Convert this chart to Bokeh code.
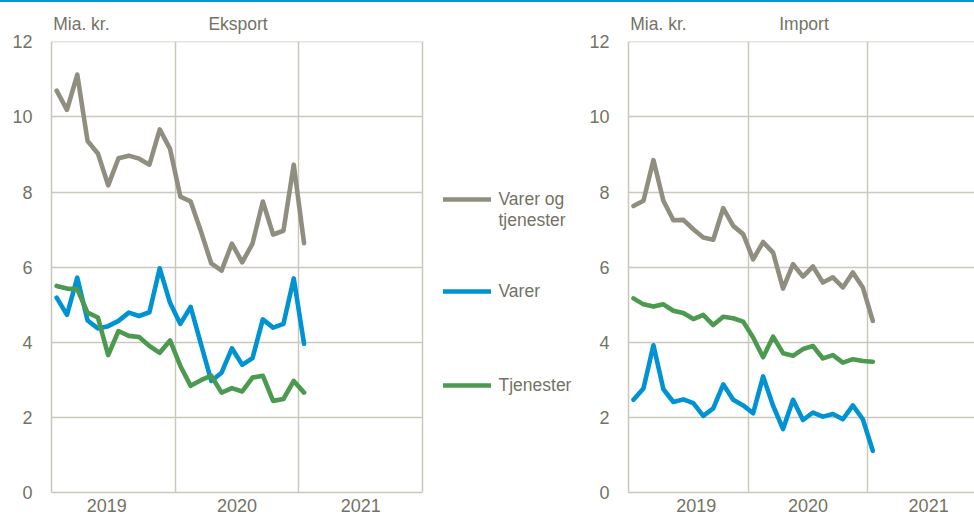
from bokeh.plotting import figure
from bokeh.models import (Range1d, FixedTicker, Legend, LegendItem, Div, ColumnDataSource,
                          LinearAxis)
from bokeh.layouts import row, column
from bokeh.embed import file_html
from bokeh.resources import INLINE

# ---------------- data ----------------
months = [f"{y}-{m:02d}" for y in (2019, 2020) for m in range(1, 13)] + ["2021-01"]
year_labels = ["2019", "2020", "2021"]

export_total = [10.70, 10.19, 11.13, 9.36, 9.03, 8.18, 8.90, 8.97, 8.89, 8.73, 9.67, 9.15,
                7.88, 7.75, 6.95, 6.10, 5.91, 6.63, 6.13, 6.63, 7.75, 6.87, 6.97, 8.73, 6.64]
export_goods = [5.19, 4.73, 5.72, 4.58, 4.37, 4.43, 4.57, 4.79, 4.70, 4.80, 5.97, 5.05,
                4.49, 4.94, 3.95, 2.97, 3.19, 3.84, 3.40, 3.58, 4.61, 4.39, 4.49, 5.70, 3.96]
export_services = [5.50, 5.43, 5.41, 4.79, 4.66, 3.66, 4.30, 4.17, 4.14, 3.90, 3.72, 4.05,
                   3.37, 2.84, 2.99, 3.11, 2.66, 2.78, 2.69, 3.06, 3.11, 2.44, 2.49, 2.97, 2.66]

import_total = [7.63, 7.77, 8.85, 7.77, 7.25, 7.26, 7.01, 6.79, 6.73, 7.57, 7.10, 6.88,
                6.21, 6.67, 6.39, 5.43, 6.08, 5.75, 6.02, 5.59, 5.73, 5.46, 5.86, 5.46, 4.57]
import_goods = [2.47, 2.77, 3.92, 2.75, 2.41, 2.48, 2.38, 2.04, 2.24, 2.88, 2.47, 2.32,
                2.11, 3.09, 2.31, 1.69, 2.47, 1.93, 2.13, 2.02, 2.09, 1.95, 2.32, 1.95, 1.11]
import_services = [5.17, 5.01, 4.95, 5.01, 4.84, 4.78, 4.62, 4.73, 4.46, 4.68, 4.64, 4.55,
                   4.13, 3.60, 4.15, 3.71, 3.64, 3.82, 3.90, 3.57, 3.66, 3.46, 3.55, 3.50, 3.48]

unit_label = "Mia. kr."
legend_lines = [["Varer og", "tjenester"], ["Varer"], ["Tjenester"]]

# ---------------- style ----------------
FONT = "Liberation Sans"
TXT = "#737365"
GRID = "#c9c8bd"
C_TOTAL = "#8f8e7f"
C_GOODS = "#0093d3"
C_SERV = "#4c9a50"
LW = 4.6
H = 517

x_pos = [i + 0.5 for i in range(len(months))]


def make_panel(width, border_left, border_right, border_top, border_bottom, x_end,
               year_ticks, title, head_ticks, data):
    p = figure(width=width, height=H, output_backend="svg", toolbar_location=None,
               title=None,
               x_range=Range1d(0, x_end), y_range=Range1d(0, 12.01),
               min_border_left=border_left, min_border_right=border_right,
               min_border_top=border_top, min_border_bottom=border_bottom)
    p.outline_line_color = None

    # y axis
    p.yaxis.ticker = FixedTicker(ticks=[0, 2, 4, 6, 8, 10, 12])
    p.yaxis.major_tick_out = 0
    p.yaxis.major_tick_in = 0
    p.yaxis.minor_tick_out = 0
    p.yaxis.minor_tick_in = 0
    p.yaxis.major_label_standoff = 19
    p.yaxis.axis_line_color = GRID
    p.yaxis.axis_line_width = 1.5
    p.yaxis.major_label_text_font = FONT
    p.yaxis.major_label_text_font_size = "18px"
    p.yaxis.major_label_text_color = TXT

    # x axis: year labels centred in each year, grid at year boundaries
    p.xaxis.ticker = FixedTicker(ticks=year_ticks)
    p.xaxis.major_label_overrides = {t: lab for t, lab in zip(year_ticks, year_labels)}
    p.xaxis.bounds = (0, 36)
    p.xaxis.major_tick_out = 0
    p.xaxis.major_tick_in = 0
    p.xaxis.minor_tick_out = 0
    p.xaxis.minor_tick_in = 0
    p.xaxis.major_label_standoff = 6
    p.xaxis.axis_line_color = GRID
    p.xaxis.axis_line_width = 1.5
    p.xaxis.major_label_text_font = FONT
    p.xaxis.major_label_text_font_size = "18px"
    p.xaxis.major_label_text_color = TXT

    # header texts (unit + panel title) as an axis above the frame
    head = LinearAxis(ticker=FixedTicker(ticks=head_ticks),
                      major_label_overrides={head_ticks[0]: unit_label, head_ticks[1]: title},
                      axis_line_color=None, major_tick_line_color=None,
                      minor_tick_line_color=None, major_label_standoff=2,
                      major_label_text_font=FONT, major_label_text_font_size="17.5px",
                      major_label_text_color=TXT)
    p.add_layout(head, "above")

    p.xgrid.ticker = FixedTicker(ticks=[12, 24, 36])
    p.xgrid.grid_line_color = GRID
    p.xgrid.grid_line_width = 1.5
    p.ygrid.grid_line_color = GRID
    p.ygrid.grid_line_width = 1.5
    p.ygrid.cross_bounds = (0, 36)

    total, goods, serv = data
    src = ColumnDataSource(dict(x=x_pos, total=total, goods=goods, serv=serv))
    rs = []
    for col, c in (("total", C_TOTAL), ("goods", C_GOODS), ("serv", C_SERV)):
        rs.append(p.line("x", col, source=src, line_color=c, line_width=LW,
                         line_join="round", line_cap="round"))
    return p, rs


# left panel frame extends to the right to host the legend (grid/axis bounded to 3 years)
left, (lt, lgd, ls) = make_panel(586, 51, 0, 35, 27, 51.9, [5.35, 18, 30.0], "Eksport",
                                 [2.9, 18.1], (export_total, export_goods, export_services))
right, _ = make_panel(388, 42, 0, 39, 26, 34.7, [6.8, 18, 30.1], "Import", [3.0, 17.6],
                      (import_total, import_goods, import_services))

blank = left.line(x=[], y=[], line_alpha=0)


def add_legend(items, vy):
    leg = Legend(items=items, location=(391.5, vy), orientation="vertical",
                 padding=0, margin=0, spacing=0, border_line_color=None,
                 background_fill_alpha=0, glyph_width=48, glyph_height=18,
                 label_standoff=8, label_height=18,
                 label_text_font=FONT, label_text_font_size="17.5px",
                 label_text_color=TXT, label_text_baseline="middle")
    left.add_layout(leg)


add_legend([LegendItem(label=legend_lines[0][0], renderers=[lt]),
            LegendItem(label=legend_lines[0][1], renderers=[blank])], 261.5)
add_legend([LegendItem(label=legend_lines[1][0], renderers=[lgd])], 190.5)
add_legend([LegendItem(label=legend_lines[2][0], renderers=[ls])], 96.2)

topline = Div(text="", width=974, height=2, margin=0,
              styles={"background-color": "#0094d8"})

layout = column(topline, row(left, right))

open("out.html", "w").write(file_html(layout, INLINE))
